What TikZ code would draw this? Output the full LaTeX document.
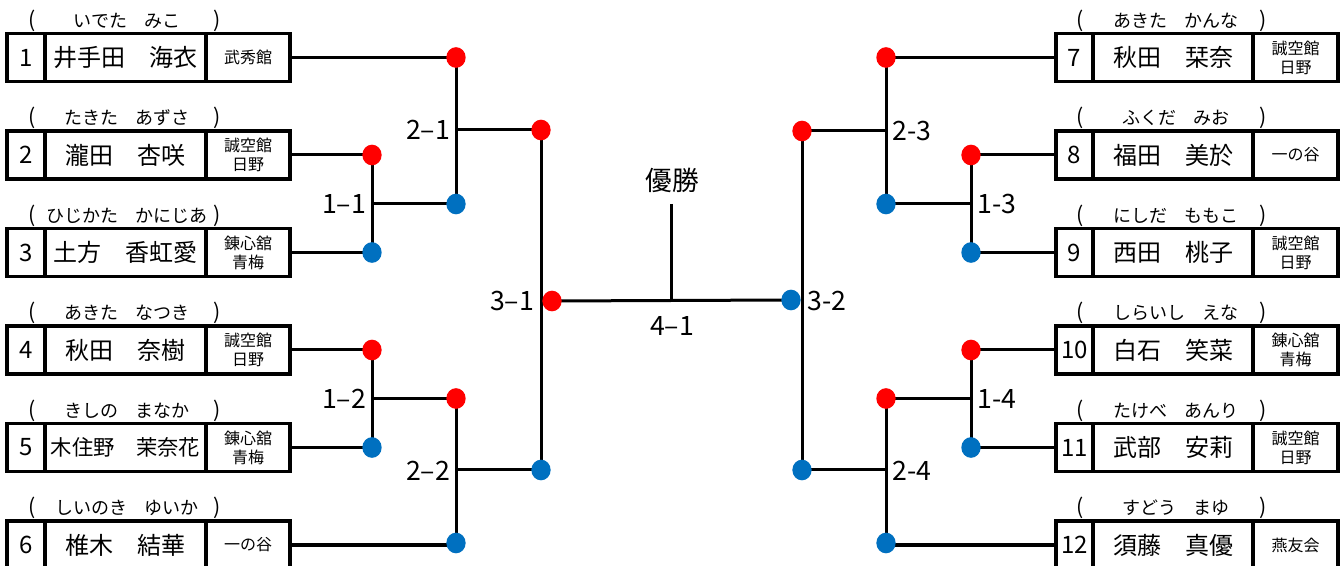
\documentclass[tikz,border=0pt]{standalone}
\usepackage{fontspec}
\newfontfamily\jp{Noto Sans CJK JP}
\usetikzlibrary{backgrounds,shapes.geometric}
\definecolor{rd}{HTML}{FF0000}
\definecolor{bl}{HTML}{0070C0}
\tikzset{
  cell/.style={draw, line width=2.6pt, minimum height=36pt, inner sep=0pt, anchor=center},
  numcell/.style={cell, minimum width=28.5pt, font=\jp\fontsize{18}{18}\selectfont},
  rnumcell/.style={cell, minimum width=27.75pt, font=\jp\fontsize{18}{18}\selectfont},
  namecell/.style={cell, minimum width=120.75pt, font=\jp\fontsize{18}{18}\selectfont},
  rnamecell/.style={cell, minimum width=120pt, font=\jp\fontsize{18}{18}\selectfont},
  clubcell/.style={cell, minimum width=63pt, align=center, font=\jp\fontsize{12}{14.25}\selectfont},
  rclubcell/.style={cell, minimum width=63.75pt, align=center, font=\jp\fontsize{12}{14.25}\selectfont},
  furi/.style={inner sep=0pt, font=\jp\fontsize{13.5}{13.5}\selectfont},
  paren/.style={inner sep=0pt, font=\jp\fontsize{16}{16}\selectfont},
  rdot/.style={ellipse, fill=rd, minimum width=14.5pt, minimum height=15.5pt, inner sep=0pt},
  bdot/.style={ellipse, fill=bl, minimum width=14.5pt, minimum height=15.5pt, inner sep=0pt},
  conn/.style={line width=2.25pt},
  lbl/.style={inner sep=0pt, font=\jp\fontsize{20}{20}\selectfont},
}
\newcommand\lentry[7]{%
  \node[numcell] (n#1) at (26,#2) {#3};
  \node[namecell] (nm#1) at (125.5,#2) {#6};
  \node[clubcell] (c#1) at (248,#2) {#7};
  \node[furi] (f#1) at (127,#2-37) {#4\hspace{13pt}#5};
  \node[paren] (pl#1) at (32,#2-37) {(};
  \node[paren] (pr#1) at (217,#2-37) {)};
}
\newcommand\rentry[7]{%
  \node[rnumcell] (n#1) at (1074.5,#2) {#3};
  \node[rnamecell] (nm#1) at (1173,#2) {#6};
  \node[rclubcell] (c#1) at (1295.5,#2) {#7};
  \node[furi] (f#1) at (1176,#2-37) {#4\hspace{13pt}#5};
  \node[paren] (pl#1) at (1080,#2-37) {(};
  \node[paren] (pr#1) at (1263,#2-37) {)};
}
\begin{document}
\begin{tikzpicture}[x=0.75pt,y=-0.75pt]
\useasboundingbox (0,0) rectangle (1343,566);
% left entries
\lentry{1}{57.5}{1}{いでた}{みこ}{井手田　海衣}{武秀館}
\lentry{2}{155}{2}{たきた}{あずさ}{瀧田　杏咲}{誠空館\\日野}
\lentry{3}{252.5}{3}{ひじかた}{かにじあ}{土方　香虹愛}{錬心舘\\青梅}
\lentry{4}{350}{4}{あきた}{なつき}{秋田　奈樹}{誠空館\\日野}
\lentry{5}{447.5}{5}{きしの}{まなか}{{\fontsize{16}{16}\selectfont 木住野　茉奈花}}{錬心舘\\青梅}
\lentry{6}{545}{6}{しいのき}{ゆいか}{椎木　結華}{一の谷}
% right entries
\rentry{7}{57.5}{7}{あきた}{かんな}{秋田　栞奈}{誠空館\\日野}
\rentry{8}{155}{8}{ふくだ}{みお}{福田　美於}{一の谷}
\rentry{9}{252.5}{9}{にしだ}{ももこ}{西田　桃子}{誠空館\\日野}
\rentry{10}{350}{10}{しらいし}{えな}{白石　笑菜}{錬心舘\\青梅}
\rentry{11}{447.5}{11}{たけべ}{あんり}{武部　安莉}{誠空館\\日野}
\rentry{12}{545}{12}{すどう}{まゆ}{須藤　真優}{燕友会}
% left dots
\node[rdot] (a1) at (456,57.5) {};
\node[rdot] (a2) at (372,155) {};
\node[bdot] (a3) at (372,252.5) {};
\node[rdot] (a4) at (372,350) {};
\node[bdot] (a5) at (372,447.5) {};
\node[bdot] (a6) at (456,543) {};
\node[bdot] (w11) at (456,204) {};
\node[rdot] (w12) at (456,398.5) {};
\node[rdot] (w21) at (541,130) {};
\node[bdot] (w22) at (541,470) {};
\node[rdot] (w31) at (552,301) {};
% right dots
\node[rdot] (b7) at (886,57.5) {};
\node[rdot] (b8) at (971,155) {};
\node[bdot] (b9) at (971,252.5) {};
\node[rdot] (b10) at (971,350) {};
\node[bdot] (b11) at (971,447.5) {};
\node[bdot] (b12) at (886,543) {};
\node[bdot] (v13) at (886,204) {};
\node[rdot] (v14) at (886,398.5) {};
\node[rdot] (v23) at (802,131) {};
\node[bdot] (v24) at (802,470) {};
\node[bdot] (v32) at (791,300) {};
% junction points
\coordinate (m11) at (372,204);
\coordinate (m12) at (372,398.5);
\coordinate (m21) at (456,130);
\coordinate (m22) at (456,470);
\coordinate (m13) at (971,204);
\coordinate (m14) at (971,398.5);
\coordinate (m23) at (886,131);
\coordinate (m24) at (886,470);
\coordinate (ctop) at (671,204);
\coordinate (cbot) at (671,300.5);
% labels
\node[lbl] (l11) at (344,204) {1–1};
\node[lbl] (l12) at (344,399) {1–2};
\node[lbl] (l21) at (428,130) {2–1};
\node[lbl] (l22) at (428,471) {2–2};
\node[lbl] (l31) at (512,301) {3–1};
\node[lbl] (l13) at (997,204) {1-3};
\node[lbl] (l14) at (997,399) {1-4};
\node[lbl] (l23) at (912,131) {2-3};
\node[lbl] (l24) at (912,471) {2-4};
\node[lbl] (l32) at (827,301) {3-2};
\node[lbl] (l41) at (672,326) {4–1};
\node[lbl] (win) at (672,180) {優勝};
\begin{pgfonlayer}{background}
\draw[conn] (c1.east) -- (a1.center);
\draw[conn] (c2.east) -- (a2.center);
\draw[conn] (c3.east) -- (a3.center);
\draw[conn] (c4.east) -- (a4.center);
\draw[conn] (c5.east) -- (a5.center);
\draw[conn] (c6.east) -- (a6.center |- c6.east);
\draw[conn] (a2.center) -- (a3.center);
\draw[conn] (a4.center) -- (a5.center);
\draw[conn] (m11) -- (w11.center);
\draw[conn] (m12) -- (w12.center);
\draw[conn] (a1.center) -- (w11.center);
\draw[conn] (w12.center) -- (a6.center);
\draw[conn] (m21) -- (w21.center);
\draw[conn] (m22) -- (w22.center);
\draw[conn] (w21.center) -- (w22.center);
\draw[conn] (n7.west) -- (b7.center);
\draw[conn] (n8.west) -- (b8.center);
\draw[conn] (n9.west) -- (b9.center);
\draw[conn] (n10.west) -- (b10.center);
\draw[conn] (n11.west) -- (b11.center);
\draw[conn] (n12.west) -- (b12.center |- n12.west);
\draw[conn] (b8.center) -- (b9.center);
\draw[conn] (b10.center) -- (b11.center);
\draw[conn] (m13) -- (v13.center);
\draw[conn] (m14) -- (v14.center);
\draw[conn] (b7.center) -- (v13.center);
\draw[conn] (v14.center) -- (b12.center);
\draw[conn] (m23) -- (v23.center);
\draw[conn] (m24) -- (v24.center);
\draw[conn] (v23.center) -- (v24.center);
\draw[conn] (w31.center) -- (v32.center);
\draw[conn] (ctop) -- (cbot);
\end{pgfonlayer}
\end{tikzpicture}
\end{document}
